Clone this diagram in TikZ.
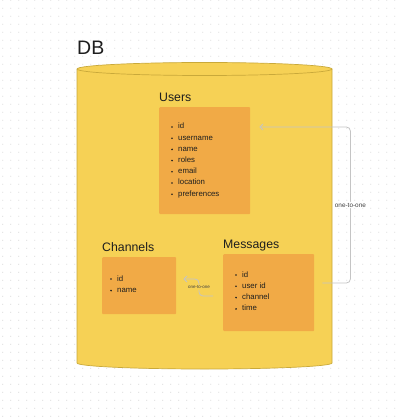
\documentclass[tikz,border=0pt]{standalone}
\usepackage{fontspec}
\setmainfont{Liberation Sans}
\usetikzlibrary{positioning,calc,arrows.meta}
\definecolor{dbyellow}{HTML}{F6D155}
\definecolor{dbedge}{HTML}{C9A93A}
\definecolor{tblorange}{HTML}{F1AA46}
\definecolor{ink}{HTML}{1E1E1E}
\definecolor{linkgray}{HTML}{C4C4C4}
\tikzset{
  tbl/.style={fill=tblorange, rounded corners=1pt, inner sep=0pt},
  title/.style={anchor=base west, inner sep=0pt, font=\fontsize{12.3}{14}\selectfont, text=ink},
  field/.style={anchor=base west, inner sep=0pt, font=\fontsize{7.8}{9}\selectfont, text=ink},
  link/.style={draw=linkgray, line width=0.8pt, rounded corners=4pt, -{Straight Barb[length=3pt,width=6pt]}},
  linklbl/.style={text=ink!85, inner sep=1pt}
}

\begin{document}
\begin{tikzpicture}[x=1pt,y=1pt]
    \useasboundingbox (0,0) rectangle (400,-419);
    % fond pointillé
    \fill[white] (0,0) rectangle (400,-419);
    \foreach \i in {0,...,49}
      \foreach \j in {0,...,52}
        \fill[gray!22] (2.7+8*\i,-0.3-8*\j) circle (0.65pt);
    % cylindre DB
    \filldraw[fill=dbyellow, draw=dbedge, line width=0.7pt] (77,-69) -- (77,-363)
      arc[start angle=180, end angle=360, x radius=127.5, y radius=6] -- (332,-69)
      arc[start angle=0, end angle=180, x radius=127.5, y radius=6.5] -- cycle;
    \draw[dbedge, line width=0.7pt] (77,-69) arc[start angle=180, end angle=360, x radius=127.5, y radius=6.5];
    \node[anchor=base west, inner sep=0pt, font=\fontsize{19.5}{22}\selectfont, text=ink] (db) at (77,-55) {DB};
    % tables
    \node[title] (usrT) at (159,-102) {Users};
    \node[tbl, minimum width=91pt, minimum height=107pt, below=5pt of usrT.base west, anchor=north west] (usr) {};
    \node[title] (chnT) at (102,-251) {Channels};
    \node[tbl, minimum width=74pt, minimum height=57pt, below=6pt of chnT.base west, anchor=north west] (chn) {};
    \node[title] (msgT) at (223,-248) {Messages};
    \node[tbl, minimum width=91pt, minimum height=77pt, below=6pt of msgT.base west, anchor=north west] (msg) {};
    % champs
    \foreach \f [count=\k from 0] in {id,username,name,roles,email,location,preferences} {
      \fill[ink] ($(usr.north west)+(13,-20-11.2*\k)$) circle (0.9pt);
      \node[field] at ($(usr.north west)+(19,-22-11.2*\k)$) {\f};
    }
    \foreach \f [count=\k from 0] in {id,name} {
      \fill[ink] ($(chn.north west)+(9,-22-11.6*\k)$) circle (0.9pt);
      \node[field] at ($(chn.north west)+(15,-24-11.6*\k)$) {\f};
    }
    \foreach \f [count=\k from 0] in {id,user id,channel,time} {
      \fill[ink] ($(msg.north west)+(13,-21-11.3*\k)$) circle (0.9pt);
      \node[field] at ($(msg.north west)+(19,-23-11.3*\k)$) {\f};
    }
    % liens
    \draw[link] ([xshift=8pt,yshift=-29pt]msg.north east) -- ++(28,0)
      |- ([xshift=9pt,yshift=-20pt]usr.north east)
      node[linklbl, fill=white, pos=0.25, font=\fontsize{6.4}{7}\selectfont] (lblA) {one-to-one};
    \draw[link] ([xshift=-10pt,yshift=-42pt]msg.north west) -- ++(-14,0)
      |- ([xshift=7pt,yshift=-22pt]chn.north east)
      node[linklbl, fill=dbyellow, pos=0.25, font=\fontsize{4.5}{5}\selectfont] (lblB) {one-to-one};
\end{tikzpicture}
\end{document}
